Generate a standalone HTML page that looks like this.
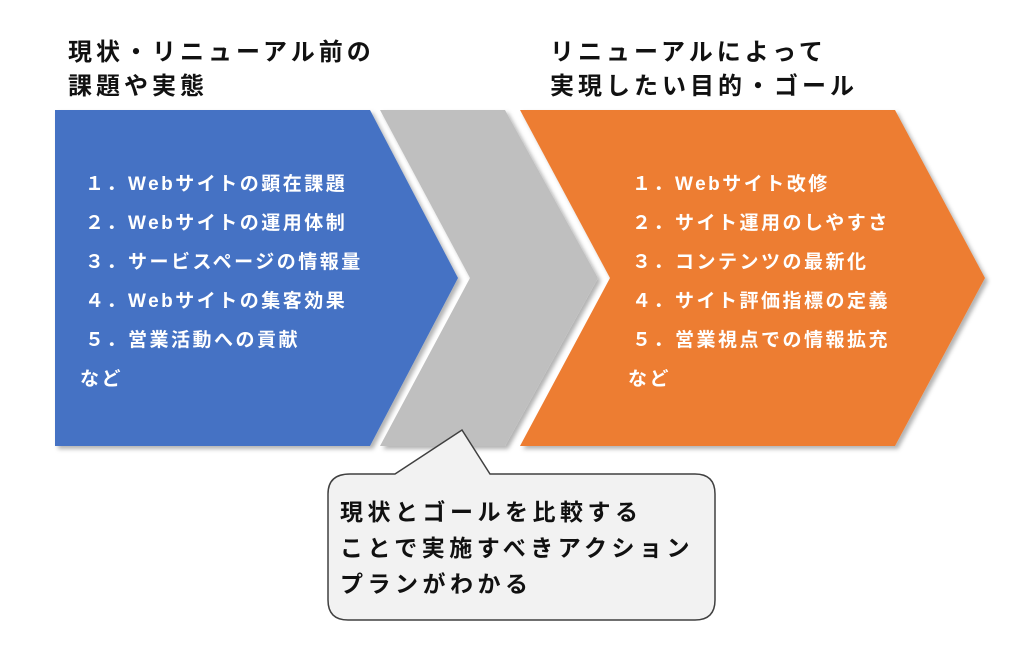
<!DOCTYPE html>
<html><head><meta charset="utf-8"><style>
html,body{margin:0;padding:0;background:#fff;}
body{width:1016px;height:655px;position:relative;overflow:hidden;font-family:"Liberation Sans","Noto Sans CJK JP",sans-serif;}
.t{position:absolute;font-weight:bold;white-space:nowrap;}
.h{font-size:24px;color:#111;line-height:34px;letter-spacing:4px;}
.l{font-size:19px;color:#fff;line-height:39px;letter-spacing:2.5px;}
.c{font-size:23px;color:#111;line-height:36px;letter-spacing:4.5px;}
</style></head><body>
<svg width="1016" height="655" style="position:absolute;left:0;top:0">
<defs><filter id="s" x="-5%" y="-5%" width="115%" height="115%"><feDropShadow dx="3" dy="3" stdDeviation="2" flood-color="#000" flood-opacity="0.3"/></filter></defs>
<polygon points="55,110 370,110 458,278 370,446 55,446" fill="#4472c4" filter="url(#s)"/>
<polygon points="380,110 505,110 598,278 505,446 380,446 470,278" fill="#bfbfbf" filter="url(#s)"/>
<polygon points="520,110 895,110 985,278 895,446 520,446 610,278" fill="#ed7d31" filter="url(#s)"/>
<path d="M350,474 L395,474 L462,430 L490,474 L695,474 Q715,474 715,494 L715,600 Q715,620 695,620 L348,620 Q328,620 328,600 L328,494 Q328,474 350,474 Z" fill="#f2f2f2" stroke="#404040" stroke-width="1.5"/>
</svg>
<div class="t h" style="left:68px;top:36px">現状・リニューアル前の<br>課題や実態</div>
<div class="t h" style="left:550px;top:36px">リニューアルによって<br>実現したい目的・ゴール</div>
<div class="t l" style="left:85px;top:165px">１．Webサイトの顕在課題<br>２．Webサイトの運用体制<br>３．サービスページの情報量<br>４．Webサイトの集客効果<br>５．営業活動への貢献</div>
<div class="t l" style="left:80px;top:360px">など</div>
<div class="t l" style="left:632px;top:165px">１．Webサイト改修<br>２．サイト運用のしやすさ<br>３．コンテンツの最新化<br>４．サイト評価指標の定義<br>５．営業視点での情報拡充</div>
<div class="t l" style="left:628px;top:360px">など</div>
<div class="t c" style="left:340px;top:494px">現状とゴールを比較する<br>ことで実施すべきアクション<br>プランがわかる</div>
</body></html>
